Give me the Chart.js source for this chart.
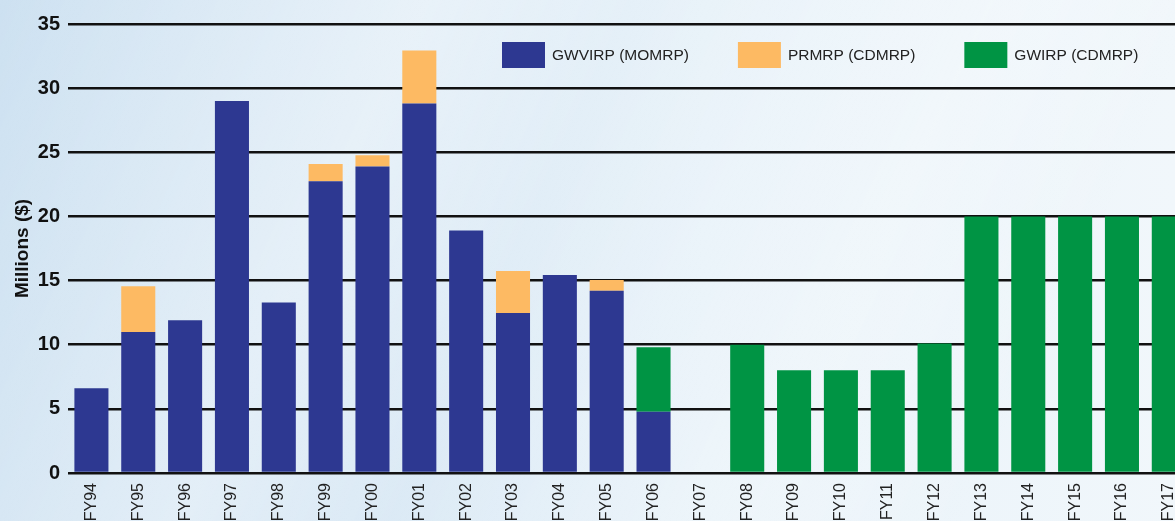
<!DOCTYPE html>
<html>
<head>
<meta charset="utf-8">
<script src="https://cdn.jsdelivr.net/npm/chart.js@4.4.1/dist/chart.umd.min.js"></script>
<style>
  html, body { margin: 0; padding: 0; width: 1175px; height: 521px; overflow: hidden; }
  body {
    background:
      linear-gradient(115deg, rgba(255,255,255,0) 0%, rgba(255,255,255,0.35) 30%, rgba(255,255,255,0) 45%, rgba(255,255,255,0.25) 70%, rgba(255,255,255,0) 85%),
      linear-gradient(to right, #cde1f1 0%, #dae9f5 30%, #e8f2f9 60%, #f1f7fb 100%);
  }
  #wrap { position: absolute; left: 0; top: 0; }
</style>
</head>
<body>
<div id="wrap"><canvas id="c" width="1198" height="530"></canvas></div>
<script>
const categories = ['FY94','FY95','FY96','FY97','FY98','FY99','FY00','FY01','FY02','FY03','FY04','FY05','FY06','FY07','FY08','FY09','FY10','FY11','FY12','FY13','FY14','FY15','FY16','FY17'];
const gwvirp = [6.6, 11.0, 11.9, 29.0, 13.3, 22.75, 23.9, 28.8, 18.9, 12.47, 15.43, 14.2, 4.78, 0, 0, 0, 0, 0, 0, 0, 0, 0, 0, 0];
const prmrp  = [0, 3.56, 0, 0, 0, 1.33, 0.87, 4.14, 0, 3.27, 0, 0.84, 0, 0, 0, 0, 0, 0, 0, 0, 0, 0, 0, 0];
const gwirp  = [0, 0, 0, 0, 0, 0, 0, 0, 0, 0, 0, 0, 5.03, 0, 10.0, 8.0, 8.0, 8.0, 10.1, 20.0, 20.0, 20.0, 20.0, 20.0];
const seriesLabels = ['GWVIRP (MOMRP)', 'PRMRP (CDMRP)', 'GWIRP (CDMRP)'];
const seriesColors = ['#2d3891', '#fdba63', '#009444'];
const yTicks = [0, 5, 10, 15, 20, 25, 30, 35];

const FONT = "'Liberation Sans', Arial, sans-serif";

// Legend drawn inside the plot area, items laid out left to right
const insideLegend = {
  id: 'insideLegend',
  afterDatasetsDraw(chart, args, opts) {
    const ctx = chart.ctx;
    ctx.save();
    ctx.font = opts.fontSize + 'px ' + FONT;
    ctx.textBaseline = 'middle';
    ctx.textAlign = 'left';
    let x = opts.x;
    const y = opts.y;
    chart.data.datasets.forEach(ds => {
      ctx.fillStyle = ds.backgroundColor;
      ctx.fillRect(x, y, opts.boxWidth, opts.boxHeight);
      const tx = x + opts.boxWidth + opts.textGap;
      ctx.fillStyle = opts.color;
      ctx.fillText(ds.label, tx, y + opts.boxHeight / 2 + 1);
      x = tx + ctx.measureText(ds.label).width + opts.itemGap;
    });
    ctx.restore();
  }
};

new Chart(document.getElementById('c'), {
  type: 'bar',
  data: {
    labels: categories,
    datasets: [
      { label: seriesLabels[0], data: gwvirp, backgroundColor: seriesColors[0] },
      { label: seriesLabels[1], data: prmrp,  backgroundColor: seriesColors[1] },
      { label: seriesLabels[2], data: gwirp,  backgroundColor: seriesColors[2] }
    ]
  },
  options: {
    responsive: false,
    animation: false,
    layout: { padding: { top: 24, left: 0, right: 0, bottom: 0 } },
    datasets: { bar: { categoryPercentage: 1.0, barPercentage: 0.727, borderWidth: 0 } },
    plugins: {
      tooltip: { enabled: false },
      legend: { display: false },
      insideLegend: {
        x: 502, y: 42, boxWidth: 43, boxHeight: 26, textGap: 7, itemGap: 49,
        fontSize: 15.5, color: '#222'
      }
    },
    scales: {
      x: {
        stacked: true,
        grid: { display: false, drawTicks: false },
        border: { display: false },
        ticks: {
          maxRotation: 90, minRotation: 90,
          autoSkip: false,
          padding: 10,
          color: '#222',
          font: { family: FONT, size: 16 }
        },
        afterFit(scale) { scale.height = 57; }
      },
      y: {
        stacked: true,
        min: 0, max: 35,
        afterBuildTicks(scale) { scale.ticks = yTicks.map(v => ({ value: v })); },
        grid: { color: '#111', lineWidth: 2.5, drawTicks: false },
        border: { display: false },
        ticks: {
          padding: 8,
          color: '#111',
          font: { family: FONT, size: 20, weight: 'bold' }
        },
        title: {
          display: true,
          text: 'Millions ($)',
          color: '#111',
          padding: { top: 11, bottom: 0 },
          font: { family: FONT, size: 19, weight: 'bold' }
        },
        afterFit(scale) { scale.width = 68; }
      }
    }
  },
  plugins: [insideLegend]
});
</script>
</body>
</html>
